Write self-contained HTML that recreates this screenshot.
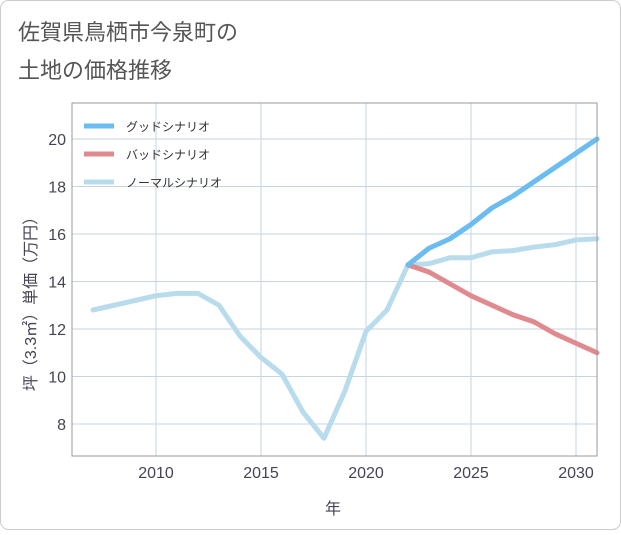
<!DOCTYPE html>
<html><head><meta charset="utf-8"><style>
body{margin:0;background:#fff;font-family:"Liberation Sans","Noto Sans CJK JP",sans-serif}
#wrap{position:relative;width:621px;height:530px}
</style></head><body>
<div id="wrap">
<svg id="c" width="621" height="530">
<rect x="0.5" y="0.5" width="620" height="529" rx="8" fill="#fff" stroke="#ccc"/>
<text x="18" y="40" font-size="22" fill="#555">佐賀県鳥栖市今泉町の</text>
<text x="18" y="78" font-size="22" fill="#555">土地の価格推移</text>
<g id="grid"></g><g id="series"></g><g id="axes"></g>
<text x="333" y="514" font-size="16" fill="#445" text-anchor="middle">年</text>
<text transform="translate(36,300) rotate(-90)" font-size="16" fill="#445" text-anchor="middle">坪（3.3㎡）単価（万円）</text>
<g>
<line x1="84" y1="126" x2="114" y2="126" stroke="#6bbcf0" stroke-width="5"/>
<text x="126" y="131" font-size="12" fill="#333">グッドシナリオ</text>
<line x1="84" y1="154" x2="114" y2="154" stroke="#e08a90" stroke-width="5"/>
<text x="126" y="159" font-size="12" fill="#333">バッドシナリオ</text>
<line x1="84" y1="182" x2="114" y2="182" stroke="#b8dcec" stroke-width="5"/>
<text x="126" y="187" font-size="12" fill="#333">ノーマルシナリオ</text>
</g>
</svg></div>
<script>
const years=[2007,2008,2009,2010,2011,2012,2013,2014,2015,2016,2017,2018,2019,2020,2021,2022,2023,2024,2025,2026,2027,2028,2029,2030,2031];
const normalVals=[12.8,13.0,13.2,13.4,13.5,13.5,13.0,11.7,10.8,10.1,8.5,7.4,9.4,11.9,12.8,14.7,14.75,15.0,15.0,15.25,15.3,15.45,15.55,15.75,15.8];
const futureYears=[2022,2023,2024,2025,2026,2027,2028,2029,2030,2031];
const goodVals=[14.7,15.4,15.8,16.4,17.1,17.6,18.2,18.8,19.4,20.0];
const badVals=[14.7,14.4,13.9,13.4,13.0,12.6,12.3,11.8,11.4,11.0];
const xTicks=[2010,2015,2020,2025,2030];
const yTicks=[8,10,12,14,16,18,20];
const L=72,R=597,T=103,B=456;
const xs=v=>156+(v-2010)*21;
const ys=v=>139+(20-v)*23.75;
const NS="http://www.w3.org/2000/svg";
function mk(p,t,a){const e=document.createElementNS(NS,t);for(const k in a)e.setAttribute(k,a[k]);p.appendChild(e);return e;}
const g=document.getElementById('grid'),s=document.getElementById('series'),ax=document.getElementById('axes');
xTicks.forEach(y=>{const l=mk(g,'line',{x1:xs(y),x2:xs(y),y1:T,y2:B,stroke:'#c5d5e2','stroke-width':1});

});
yTicks.forEach(v=>{const l=mk(g,'line',{x1:L,x2:R,y1:ys(v),y2:ys(v),stroke:'#c5d5e2','stroke-width':1});

});
const fr=mk(ax,'rect',{x:L,y:T,width:R-L,height:B-T,fill:'none',stroke:'#999'});


xTicks.forEach(v=>{const t=mk(ax,'text',{x:xs(v),y:478,'font-size':16,fill:'#445','text-anchor':'middle'});t.textContent=v;

});
yTicks.forEach(v=>{const t=mk(ax,'text',{x:66,y:ys(v)+6,'font-size':16,fill:'#445','text-anchor':'end'});t.textContent=v;

});
function line(xv,yv,c,n){const p=mk(s,'polyline',{points:xv.map((x,i)=>xs(x)+','+ys(yv[i])).join(' '),fill:'none',stroke:c,'stroke-width':5,'stroke-linejoin':'round','stroke-linecap':'round'});

}
line(years,normalVals,'#b8dcec','normal-line');
line(futureYears,badVals,'#e08a90','bad-line');
line(futureYears,goodVals,'#6bbcf0','good-line');
</script></body></html>
